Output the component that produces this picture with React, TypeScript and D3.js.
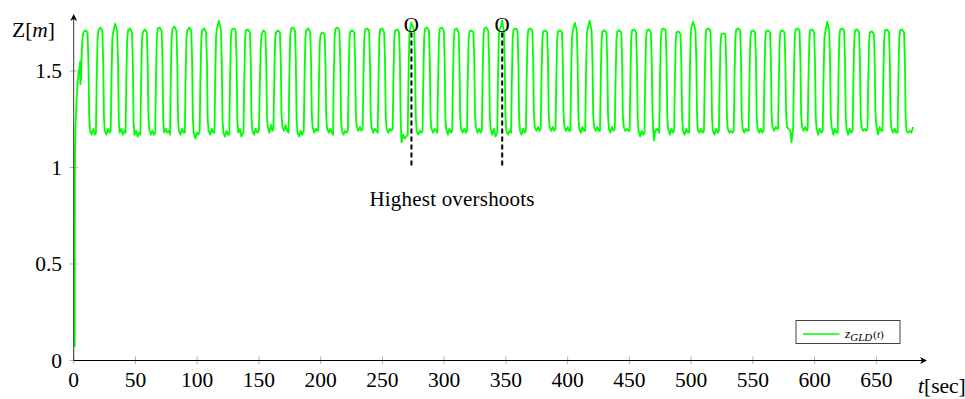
import React from 'react';
import * as d3 from 'd3';

const W = 965;
const H = 399;

const xTicks = [0, 50, 100, 150, 200, 250, 300, 350, 400, 450, 500, 550, 600, 650];
const yTicks = [0, 0.5, 1, 1.5];
const yTickLabels = ['0', '0.5', '1', '1.5'];
const overshootTimes = [273.5, 347];
const overshootMarkZ = 1.738;
const overshootDashFrom = 1.01;
const overshootDashTo = 1.70;
const annotationText = 'Highest overshoots';
const annotationAt = [306.3, 0.8];
const legendLabel = ['z', 'GLD', '(t)'];

// z_GLD(t): [t (sec), z (m)]
const zGld: [number, number][] = [
  [0.8, 0.07], [0.9, 0.9], [1.1, 1.1], [1.5, 1.22], [2.2, 1.33], [2.9, 1.41], [3.6, 1.47], [4.2, 1.5], [4.8, 1.52], [5.2, 1.55], [5.35, 1.43], [5.9, 1.46],
  [6.3, 1.55], [6.9, 1.65], [7.5, 1.69], [8.4, 1.705], [9.8, 1.71], [11.2, 1.7], [11.9, 1.56], [12.5, 1.28], [13.2, 1.19], [14.5, 1.17], [15.8, 1.2], [17.2, 1.17],
  [18, 1.18], [18.6, 1.45], [19.3, 1.66], [20, 1.71], [21.6, 1.725], [23.2, 1.71], [23.9, 1.55], [24.5, 1.26], [25.2, 1.19], [26.5, 1.17], [27.8, 1.2], [29, 1.18],
  [30, 1.19], [30.6, 1.46], [31.3, 1.67], [32, 1.7], [33.6, 1.745], [35.2, 1.71], [35.9, 1.55], [36.5, 1.25], [37.2, 1.18], [38.5, 1.2], [39.8, 1.17], [41, 1.19],
  [42, 1.18], [42.6, 1.45], [43.3, 1.66], [44, 1.71], [45.6, 1.72], [47.2, 1.7], [47.9, 1.54], [48.5, 1.24], [49.2, 1.17], [50.5, 1.19], [51.8, 1.16], [53, 1.18],
  [54, 1.17], [54.6, 1.44], [55.3, 1.66], [56, 1.7], [57.6, 1.715], [59.2, 1.7], [59.9, 1.55], [60.5, 1.26], [61.2, 1.2], [62.5, 1.17], [63.8, 1.19], [65, 1.17],
  [66, 1.18], [66.6, 1.45], [67.3, 1.67], [68, 1.72], [69.6, 1.725], [71.2, 1.71], [71.9, 1.55], [72.5, 1.25], [73.2, 1.18], [74.5, 1.2], [75.8, 1.18], [77, 1.19],
  [78, 1.17], [78.6, 1.45], [79.3, 1.67], [80, 1.72], [81.6, 1.73], [83.2, 1.71], [83.9, 1.54], [84.5, 1.25], [85.2, 1.19], [86.5, 1.17], [87.8, 1.2], [89, 1.18],
  [90, 1.18], [90.6, 1.46], [91.3, 1.67], [92, 1.71], [93.6, 1.725], [95.2, 1.71], [95.9, 1.55], [96.5, 1.25], [97.2, 1.18], [98.5, 1.15], [99.8, 1.18], [101, 1.17],
  [102, 1.19], [102.6, 1.45], [103.3, 1.66], [104, 1.71], [105.6, 1.72], [107.2, 1.7], [107.9, 1.55], [108.5, 1.25], [109.2, 1.19], [110.5, 1.17], [111.8, 1.2], [113, 1.18],
  [114, 1.18], [114.6, 1.46], [115.3, 1.68], [116, 1.72], [117.6, 1.76], [119.2, 1.71], [119.9, 1.55], [120.5, 1.25], [121.2, 1.18], [122.5, 1.16], [123.8, 1.19], [125, 1.17],
  [126, 1.17], [126.6, 1.45], [127.3, 1.67], [128, 1.715], [129.6, 1.72], [131.2, 1.71], [131.9, 1.55], [132.5, 1.25], [133.2, 1.18], [134.5, 1.2], [135.8, 1.16], [137, 1.18],
  [137.5, 1.18], [138.1, 1.45], [138.8, 1.66], [139.5, 1.71], [141.1, 1.715], [142.7, 1.7], [143.4, 1.55], [144, 1.26], [144.7, 1.19], [146, 1.17], [147.3, 1.2], [148.6, 1.18],
  [150, 1.19], [150.7, 1.42], [151.5, 1.63], [152.2, 1.69], [153.7, 1.71], [155.2, 1.7], [155.9, 1.55], [156.5, 1.27], [157.2, 1.21], [158.5, 1.18], [159.8, 1.22], [161, 1.19],
  [161.8, 1.2], [162.4, 1.45], [163.1, 1.66], [163.8, 1.7], [165.4, 1.71], [167, 1.7], [167.7, 1.55], [168.3, 1.27], [169, 1.21], [170.3, 1.19], [171.6, 1.22], [172.8, 1.19],
  [174, 1.18], [174.6, 1.46], [175.3, 1.68], [176, 1.72], [177.6, 1.725], [179.2, 1.71], [179.9, 1.55], [180.5, 1.25], [181.2, 1.18], [182.5, 1.16], [183.8, 1.19], [185, 1.17],
  [186.3, 1.19], [186.9, 1.45], [187.6, 1.67], [188.3, 1.71], [189.9, 1.72], [191.5, 1.7], [192.2, 1.55], [192.8, 1.27], [193.5, 1.21], [194.8, 1.18], [196.1, 1.2], [197.3, 1.19],
  [198, 1.19], [198.6, 1.44], [199.3, 1.65], [200, 1.69], [201.6, 1.7], [203.2, 1.69], [203.9, 1.54], [204.5, 1.26], [205.2, 1.2], [206.5, 1.18], [207.8, 1.2], [209, 1.18],
  [210, 1.17], [210.6, 1.46], [211.3, 1.67], [212, 1.72], [213.6, 1.725], [215.2, 1.71], [215.9, 1.55], [216.5, 1.25], [217.2, 1.19], [218.5, 1.17], [219.8, 1.19], [221, 1.18],
  [222, 1.19], [222.6, 1.45], [223.3, 1.66], [224, 1.705], [225.6, 1.71], [227.2, 1.7], [227.9, 1.55], [228.5, 1.27], [229.2, 1.21], [230.5, 1.19], [231.8, 1.21], [233, 1.19],
  [234, 1.2], [234.6, 1.46], [235.3, 1.67], [236, 1.715], [237.6, 1.72], [239.2, 1.71], [239.9, 1.55], [240.5, 1.27], [241.2, 1.21], [242.5, 1.18], [243.8, 1.2], [245, 1.19],
  [246.2, 1.18], [246.8, 1.45], [247.5, 1.67], [248.2, 1.715], [249.8, 1.72], [251.4, 1.7], [252.1, 1.55], [252.7, 1.26], [253.4, 1.2], [254.7, 1.18], [256, 1.2], [257.2, 1.19],
  [258.3, 1.2], [258.9, 1.45], [259.6, 1.66], [260.3, 1.71], [261.9, 1.715], [263.5, 1.7], [264.2, 1.55], [264.8, 1.24], [265.5, 1.13], [266.8, 1.17], [268.1, 1.15], [269.3, 1.16],
  [270.5, 1.17], [271.1, 1.46], [271.8, 1.68], [272.5, 1.72], [273.4, 1.75], [275.7, 1.71], [276.4, 1.55], [277, 1.26], [277.7, 1.19], [279, 1.17], [280.3, 1.19], [281.5, 1.18],
  [282.5, 1.19], [283.1, 1.45], [283.8, 1.67], [284.5, 1.72], [286.1, 1.725], [287.7, 1.71], [288.4, 1.55], [289, 1.26], [289.7, 1.2], [291, 1.18], [292.3, 1.2], [293.5, 1.19],
  [294.5, 1.18], [295.1, 1.46], [295.8, 1.67], [296.5, 1.72], [298.1, 1.725], [299.7, 1.71], [300.4, 1.55], [301, 1.26], [301.7, 1.2], [303, 1.17], [304.3, 1.2], [305.5, 1.18],
  [306.5, 1.19], [307.1, 1.45], [307.8, 1.66], [308.5, 1.715], [310.1, 1.72], [311.7, 1.7], [312.4, 1.55], [313, 1.26], [313.7, 1.2], [315, 1.18], [316.3, 1.2], [317.5, 1.18],
  [318.5, 1.19], [319.1, 1.45], [319.8, 1.66], [320.5, 1.705], [322.1, 1.71], [323.7, 1.7], [324.4, 1.55], [325, 1.27], [325.7, 1.21], [327, 1.18], [328.3, 1.2], [329.5, 1.18],
  [330.5, 1.19], [331.1, 1.46], [331.8, 1.67], [332.5, 1.72], [334.1, 1.725], [335.7, 1.71], [336.4, 1.55], [337, 1.26], [337.7, 1.2], [339, 1.17], [340.3, 1.2], [341.6, 1.16],
  [343, 1.18], [343.6, 1.46], [344.3, 1.68], [345, 1.72], [346, 1.73], [346.9, 1.76], [348.3, 1.71], [349, 1.55], [349.6, 1.27], [350.3, 1.19], [351.6, 1.17], [353, 1.19],
  [354.2, 1.18], [354.8, 1.45], [355.5, 1.67], [356.2, 1.715], [357.8, 1.72], [359.4, 1.71], [360.1, 1.55], [360.7, 1.26], [361.4, 1.19], [362.7, 1.17], [364, 1.2], [365.2, 1.18],
  [366.2, 1.19], [366.8, 1.45], [367.5, 1.67], [368.2, 1.715], [369.8, 1.72], [371.4, 1.71], [372.1, 1.55], [372.7, 1.27], [373.4, 1.21], [374.7, 1.19], [376, 1.21], [377.2, 1.19],
  [378.2, 1.2], [378.8, 1.45], [379.5, 1.66], [380.2, 1.705], [381.8, 1.71], [383.4, 1.7], [384.1, 1.55], [384.7, 1.27], [385.4, 1.21], [386.7, 1.19], [388, 1.21], [389.2, 1.19],
  [390.2, 1.2], [390.8, 1.45], [391.5, 1.66], [392.2, 1.705], [393.8, 1.71], [395.4, 1.7], [396.1, 1.55], [396.7, 1.27], [397.4, 1.21], [398.7, 1.19], [400, 1.21], [401.2, 1.19],
  [402.2, 1.19], [402.8, 1.46], [403.5, 1.67], [404.2, 1.71], [405.8, 1.75], [407.4, 1.71], [408.1, 1.55], [408.7, 1.26], [409.4, 1.2], [410.7, 1.18], [412, 1.21], [413.2, 1.19],
  [414.2, 1.19], [414.8, 1.46], [415.5, 1.68], [416.2, 1.72], [417.8, 1.76], [419.4, 1.71], [420.1, 1.55], [420.7, 1.27], [421.4, 1.21], [422.7, 1.19], [424, 1.21], [425.2, 1.19],
  [426.2, 1.19], [426.8, 1.45], [427.5, 1.66], [428.2, 1.705], [429.8, 1.71], [431.4, 1.7], [432.1, 1.55], [432.7, 1.27], [433.4, 1.2], [434.7, 1.18], [436, 1.21], [437.2, 1.19],
  [438.2, 1.2], [438.8, 1.45], [439.5, 1.66], [440.2, 1.705], [441.8, 1.71], [443.4, 1.7], [444.1, 1.55], [444.7, 1.27], [445.4, 1.21], [446.7, 1.19], [448, 1.2], [449.2, 1.19],
  [450.2, 1.19], [450.8, 1.45], [451.5, 1.67], [452.2, 1.71], [453.8, 1.715], [455.4, 1.7], [456.1, 1.55], [456.7, 1.26], [457.4, 1.19], [458.7, 1.16], [460, 1.19], [461.2, 1.17],
  [462.2, 1.18], [462.8, 1.45], [463.5, 1.67], [464.2, 1.71], [465.8, 1.715], [467.4, 1.7], [468.1, 1.55], [468.7, 1.3], [469.2, 1.2], [469.9, 1.14], [470.9, 1.19], [472.5, 1.2], [473.6, 1.19],
  [474.2, 1.18], [474.8, 1.46], [475.5, 1.67], [476.2, 1.715], [477.8, 1.72], [479.4, 1.71], [480.1, 1.55], [480.7, 1.26], [481.4, 1.2], [482.7, 1.17], [484, 1.2], [485.2, 1.18],
  [486.2, 1.19], [486.8, 1.44], [487.5, 1.65], [488.2, 1.7], [489.8, 1.705], [491.4, 1.69], [492.1, 1.54], [492.7, 1.26], [493.4, 1.19], [494.7, 1.17], [496, 1.2], [497.2, 1.18],
  [498.3, 1.18], [498.9, 1.46], [499.6, 1.68], [500.3, 1.73], [501.6, 1.755], [503.5, 1.71], [504.2, 1.55], [504.8, 1.26], [505.5, 1.19], [506.8, 1.18], [508.1, 1.2], [509.3, 1.18],
  [510.4, 1.19], [511, 1.45], [511.7, 1.67], [512.4, 1.715], [514, 1.72], [515.6, 1.71], [516.3, 1.55], [516.9, 1.26], [517.6, 1.19], [518.9, 1.17], [520.2, 1.2], [521.4, 1.18],
  [522.5, 1.19], [523.1, 1.44], [523.8, 1.64], [524.5, 1.69], [526.1, 1.695], [527.7, 1.69], [528.4, 1.54], [529, 1.26], [529.7, 1.2], [531, 1.18], [532.3, 1.19], [533.5, 1.18],
  [534.5, 1.19], [535.1, 1.45], [535.8, 1.67], [536.5, 1.715], [538.1, 1.72], [539.7, 1.71], [540.4, 1.55], [541, 1.26], [541.7, 1.2], [543, 1.18], [544.3, 1.2], [545.5, 1.19],
  [546.6, 1.19], [547.2, 1.45], [547.9, 1.66], [548.6, 1.705], [550.2, 1.71], [551.8, 1.7], [552.5, 1.55], [553.1, 1.26], [553.8, 1.2], [555.1, 1.18], [556.4, 1.2], [557.6, 1.18],
  [558.7, 1.19], [559.3, 1.45], [560, 1.66], [560.7, 1.705], [562.3, 1.71], [563.9, 1.7], [564.6, 1.55], [565.2, 1.27], [565.9, 1.21], [567.2, 1.19], [568.5, 1.21], [569.7, 1.2],
  [570.4, 1.2], [571, 1.45], [571.7, 1.66], [572.4, 1.705], [574, 1.71], [575.6, 1.7], [576.3, 1.55], [576.9, 1.27], [577.6, 1.21], [578.9, 1.2], [580.3, 1.19], [581.3, 1.13], [581.9, 1.17],
  [582.6, 1.2], [583.2, 1.46], [583.9, 1.67], [584.6, 1.715], [586.2, 1.72], [587.8, 1.71], [588.5, 1.55], [589.1, 1.27], [589.8, 1.21], [591.1, 1.19], [592.4, 1.21], [593.6, 1.19],
  [594.4, 1.2], [595, 1.45], [595.7, 1.66], [596.4, 1.71], [598, 1.715], [599.6, 1.7], [600.3, 1.55], [600.9, 1.26], [601.6, 1.2], [602.9, 1.17], [604.2, 1.2], [605.4, 1.18],
  [606.6, 1.19], [607.2, 1.46], [607.9, 1.67], [608.6, 1.7], [610.2, 1.755], [611.8, 1.71], [612.5, 1.55], [613.1, 1.27], [613.8, 1.21], [615.1, 1.17], [616.4, 1.2], [617.6, 1.18],
  [618.7, 1.18], [619.3, 1.46], [620, 1.67], [620.7, 1.715], [622.3, 1.72], [623.9, 1.71], [624.6, 1.55], [625.2, 1.26], [625.9, 1.2], [627.2, 1.17], [628.5, 1.2], [629.7, 1.18],
  [630.8, 1.19], [631.4, 1.45], [632.1, 1.66], [632.8, 1.71], [634.4, 1.715], [636, 1.7], [636.7, 1.55], [637.3, 1.27], [638, 1.21], [639.3, 1.19], [640.6, 1.2], [641.8, 1.19],
  [642.8, 1.2], [643.4, 1.44], [644.1, 1.65], [644.8, 1.7], [646.4, 1.705], [648, 1.69], [648.7, 1.54], [649.3, 1.27], [650, 1.22], [651.3, 1.17], [652.6, 1.21], [653.8, 1.19],
  [655, 1.19], [655.6, 1.45], [656.3, 1.66], [657, 1.71], [658.6, 1.715], [660.2, 1.7], [660.9, 1.55], [661.5, 1.26], [662.2, 1.2], [663.5, 1.18], [664.8, 1.2], [666, 1.18],
  [667.2, 1.18], [667.8, 1.45], [668.5, 1.66], [669.2, 1.71], [670.8, 1.715], [672.4, 1.7], [673.1, 1.55], [673.7, 1.26], [674.4, 1.19], [675.7, 1.18], [677, 1.19], [678.3, 1.18], [679.8, 1.21],
];

const FONT = "'Liberation Serif', 'DejaVu Serif', serif";
const GREEN = '#00ff00';

export default function App() {
  const x = d3.scaleLinear().domain([0, 691]).range([73.7, 927]);
  const y = d3.scaleLinear().domain([0, 1.795]).range([360.5, 14]);
  const line = d3.line<[number, number]>().x(d => x(d[0])).y(d => y(d[1]));
  const x0 = x(0);
  const y0 = y(0);
  const xEnd = x(691);
  const yEnd = y(1.795);

  return (
    <svg width={W} height={H} viewBox={`0 0 ${W} ${H}`}
      style={{ position: 'absolute', left: 0, top: 0, background: '#fff', fontFamily: FONT }}>
      {/* ticks */}
      {xTicks.map(t => (
        <line key={'xt' + t} x1={x(t)} x2={x(t)} y1={y0 - 4} y2={y0 + 3.5} stroke="#999" strokeWidth={0.8} />
      ))}
      {yTicks.map(t => (
        <line key={'yt' + t} x1={x0 - 4} x2={x0 + 4} y1={y(t)} y2={y(t)} stroke="#999" strokeWidth={0.8} />
      ))}
      {/* data */}
      <path d={line(zGld) || ''} fill="none" stroke={GREEN} strokeWidth={1.8} strokeLinejoin="round" />
      {/* axes */}
      <line x1={x0} x2={xEnd - 3} y1={y0} y2={y0} stroke="#000" strokeWidth={1} />
      <line x1={x0} x2={x0} y1={y0} y2={yEnd + 3} stroke="#333" strokeWidth={1} />
      <path d={`M${xEnd},${y0} L${xEnd - 7},${y0 - 3.5} L${xEnd - 5},${y0} L${xEnd - 7},${y0 + 3.5} Z`} fill="#000" />
      <path d={`M${x0},${yEnd} L${x0 - 3.5},${yEnd + 7} L${x0},${yEnd + 5} L${x0 + 3.5},${yEnd + 7} Z`} fill="#000" />
      {/* tick labels */}
      {xTicks.map(t => (
        <text key={'xl' + t} x={x(t)} y={387} textAnchor="middle" fontSize={21.5} fill="#000">{t}</text>
      ))}
      {yTicks.map((t, i) => (
        <text key={'yl' + t} x={62} y={y(t) + 7.5} textAnchor="end" fontSize={21.5} fill="#000">{yTickLabels[i]}</text>
      ))}
      {/* axis labels */}
      <text x={12} y={37} fontSize={21.5} fill="#000">Z[<tspan fontStyle="italic">m</tspan>]</text>
      <text x={918} y={393} fontSize={21.5} fill="#000"><tspan fontStyle="italic">t</tspan>[sec]</text>
      {/* overshoot annotations */}
      {overshootTimes.map(t => (
        <g key={'os' + t}>
          <line x1={x(t)} x2={x(t)} y1={y(overshootDashFrom)} y2={y(overshootDashTo)} stroke="#000" strokeWidth={2} strokeDasharray="5,3" />
          <text x={x(t)} y={y(overshootMarkZ) + 7} textAnchor="middle" fontSize={21} fill="#000">O</text>
        </g>
      ))}
      <text x={x(annotationAt[0])} y={y(annotationAt[1])} textAnchor="middle" fontSize={21} fill="#000" textLength={165} lengthAdjust="spacing">{annotationText}</text>
      {/* legend */}
      <rect x={796} y={320.5} width={104} height={23} fill="#fff" stroke="#444" strokeWidth={1} />
      <line x1={803} x2={839.5} y1={334} y2={334} stroke={GREEN} strokeWidth={1.7} />
      <text x={845} y={338} fontSize={13.5} fill="#000" fontStyle="italic">
        {legendLabel[0]}
        <tspan fontSize={11} dy={3}>{legendLabel[1]}</tspan>
        <tspan fontSize={11} dy={-3} fontStyle="normal" dx={1}>(</tspan>
        <tspan fontSize={11}>t</tspan>
        <tspan fontSize={11} fontStyle="normal">)</tspan>
      </text>
    </svg>
  );
}
